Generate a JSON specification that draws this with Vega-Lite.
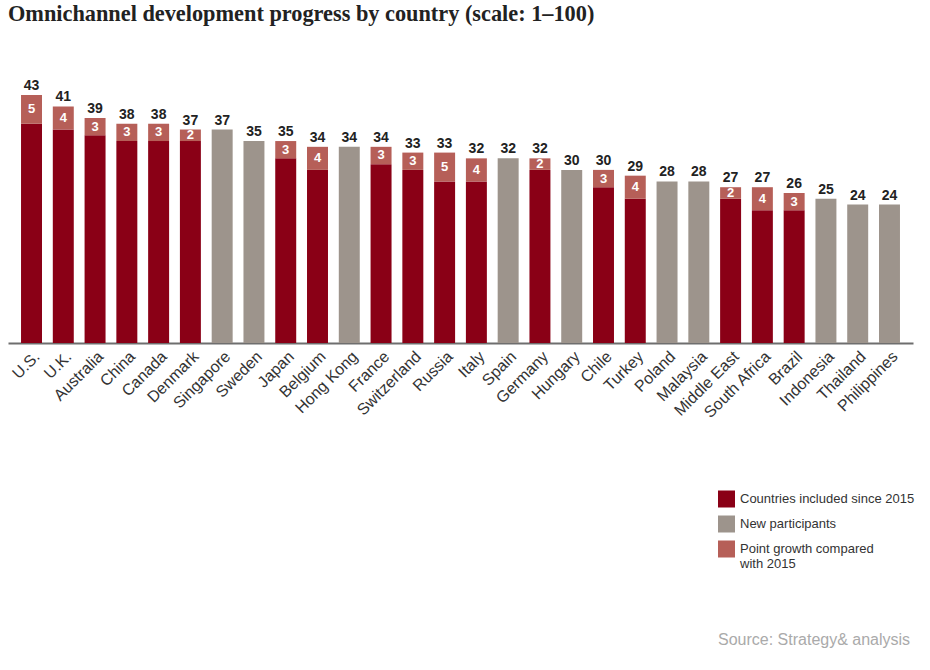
{
  "$schema": "https://vega.github.io/schema/vega-lite/v6.json",
  "width": 905,
  "height": 288.5,
  "autosize": "none",
  "padding": {"left": 8, "top": 54.5, "right": 17, "bottom": 327},
  "background": "white",
  "title": {
    "text": "Omnichannel development progress by country (scale: 1–100)",
    "anchor": "start",
    "frame": "group",
    "font": "Liberation Serif",
    "fontSize": 22.3,
    "fontWeight": "bold",
    "color": "#222222",
    "offset": 29
  },
  "data": {
    "values": [
      {"country": "U.S.", "segment": "Countries included since 2015", "value": 38},
      {"country": "U.S.", "segment": "Point growth compared with 2015", "value": 5},
      {"country": "U.K.", "segment": "Countries included since 2015", "value": 37},
      {"country": "U.K.", "segment": "Point growth compared with 2015", "value": 4},
      {"country": "Australia", "segment": "Countries included since 2015", "value": 36},
      {"country": "Australia", "segment": "Point growth compared with 2015", "value": 3},
      {"country": "China", "segment": "Countries included since 2015", "value": 35},
      {"country": "China", "segment": "Point growth compared with 2015", "value": 3},
      {"country": "Canada", "segment": "Countries included since 2015", "value": 35},
      {"country": "Canada", "segment": "Point growth compared with 2015", "value": 3},
      {"country": "Denmark", "segment": "Countries included since 2015", "value": 35},
      {"country": "Denmark", "segment": "Point growth compared with 2015", "value": 2},
      {"country": "Singapore", "segment": "New participants", "value": 37},
      {"country": "Sweden", "segment": "New participants", "value": 35},
      {"country": "Japan", "segment": "Countries included since 2015", "value": 32},
      {"country": "Japan", "segment": "Point growth compared with 2015", "value": 3},
      {"country": "Belgium", "segment": "Countries included since 2015", "value": 30},
      {"country": "Belgium", "segment": "Point growth compared with 2015", "value": 4},
      {"country": "Hong Kong", "segment": "New participants", "value": 34},
      {"country": "France", "segment": "Countries included since 2015", "value": 31},
      {"country": "France", "segment": "Point growth compared with 2015", "value": 3},
      {"country": "Switzerland", "segment": "Countries included since 2015", "value": 30},
      {"country": "Switzerland", "segment": "Point growth compared with 2015", "value": 3},
      {"country": "Russia", "segment": "Countries included since 2015", "value": 28},
      {"country": "Russia", "segment": "Point growth compared with 2015", "value": 5},
      {"country": "Italy", "segment": "Countries included since 2015", "value": 28},
      {"country": "Italy", "segment": "Point growth compared with 2015", "value": 4},
      {"country": "Spain", "segment": "New participants", "value": 32},
      {"country": "Germany", "segment": "Countries included since 2015", "value": 30},
      {"country": "Germany", "segment": "Point growth compared with 2015", "value": 2},
      {"country": "Hungary", "segment": "New participants", "value": 30},
      {"country": "Chile", "segment": "Countries included since 2015", "value": 27},
      {"country": "Chile", "segment": "Point growth compared with 2015", "value": 3},
      {"country": "Turkey", "segment": "Countries included since 2015", "value": 25},
      {"country": "Turkey", "segment": "Point growth compared with 2015", "value": 4},
      {"country": "Poland", "segment": "New participants", "value": 28},
      {"country": "Malaysia", "segment": "New participants", "value": 28},
      {"country": "Middle East", "segment": "Countries included since 2015", "value": 25},
      {"country": "Middle East", "segment": "Point growth compared with 2015", "value": 2},
      {"country": "South Africa", "segment": "Countries included since 2015", "value": 23},
      {"country": "South Africa", "segment": "Point growth compared with 2015", "value": 4},
      {"country": "Brazil", "segment": "Countries included since 2015", "value": 23},
      {"country": "Brazil", "segment": "Point growth compared with 2015", "value": 3},
      {"country": "Indonesia", "segment": "New participants", "value": 25},
      {"country": "Thailand", "segment": "New participants", "value": 24},
      {"country": "Philippines", "segment": "New participants", "value": 24}
    ]
  },
  "transform": [
    {"stack": "value", "groupby": ["country"], "sort": [{"field": "segment", "order": "ascending"}], "as": ["v0", "v1"]}
  ],
  "encoding": {
    "x": {
      "field": "country",
      "type": "nominal",
      "sort": ["U.S.", "U.K.", "Australia", "China", "Canada", "Denmark", "Singapore", "Sweden", "Japan", "Belgium", "Hong Kong", "France", "Switzerland", "Russia", "Italy", "Spain", "Germany", "Hungary", "Chile", "Turkey", "Poland", "Malaysia", "Middle East", "South Africa", "Brazil", "Indonesia", "Thailand", "Philippines"],
      "scale": {"paddingInner": 0.34, "paddingOuter": 0.41},
      "axis": {
        "title": null,
        "labelAngle": -45,
        "labelFontSize": 16,
        "labelFont": "Liberation Sans",
        "labelColor": "#333333",
        "ticks": false,
        "domainColor": "#6e6e6e",
        "domainWidth": 2,
        "labelPadding": 5
      }
    }
  },
  "layer": [
    {
      "mark": {"type": "bar"},
      "encoding": {
        "y": {"field": "v0", "type": "quantitative", "scale": {"domain": [0, 50], "nice": false}, "axis": null},
        "y2": {"field": "v1"},
        "color": {
          "field": "segment",
          "type": "nominal",
          "scale": {
            "domain": ["Countries included since 2015", "New participants", "Point growth compared with 2015"],
            "range": ["#8a0016", "#9d948c", "#b65f58"]
          },
          "legend": {
            "orient": "none",
            "legendX": 710,
            "legendY": 436,
            "title": "Source: Strategy& analysis",
            "titleOrient": "bottom",
            "titlePadding": 60,
            "titleFontSize": 16,
            "titleFontWeight": "normal",
            "titleColor": "#aaaaaa",
            "titleFont": "Liberation Sans",
            "titleLimit": 400,
            "symbolType": "square",
            "symbolSize": 289,
            "symbolStrokeWidth": 0,
            "labelFontSize": 13,
            "labelFont": "Liberation Sans",
            "labelColor": "#333333",
            "labelLimit": 300,
            "labelOffset": 5,
            "rowPadding": 8,
            "labelExpr": "datum.label == 'Point growth compared with 2015' ? ['Point growth compared', 'with 2015'] : datum.label"
          }
        }
      }
    },
    {
      "mark": {"type": "text", "baseline": "alphabetic", "dy": -5, "fontSize": 14, "fontWeight": "bold", "font": "Liberation Sans", "color": "#222222"},
      "encoding": {
        "y": {"aggregate": "max", "field": "v1", "type": "quantitative"},
        "text": {"aggregate": "max", "field": "v1", "type": "quantitative"}
      }
    },
    {
      "transform": [
        {"filter": "datum.segment == 'Point growth compared with 2015'"},
        {"fold": ["v0", "v1"], "as": ["k", "pos"]}
      ],
      "mark": {"type": "text", "baseline": "middle", "fontSize": 13, "fontWeight": "bold", "font": "Liberation Sans", "color": "white"},
      "encoding": {
        "y": {"aggregate": "mean", "field": "pos", "type": "quantitative"},
        "text": {"field": "value", "type": "quantitative"}
      }
    }
  ],
  "config": {"view": {"stroke": null}}
}
